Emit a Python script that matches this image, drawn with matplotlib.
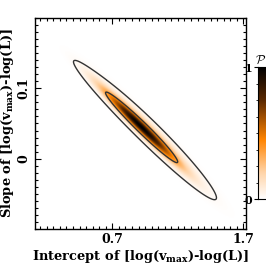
import matplotlib
matplotlib.use("Agg")
import matplotlib.pyplot as plt
import numpy as np
from matplotlib.colors import LinearSegmentedColormap
from matplotlib.ticker import MultipleLocator, FixedLocator

plt.rcParams['font.family'] = 'DejaVu Serif'
plt.rcParams['font.weight'] = 'bold'
plt.rcParams['axes.labelweight'] = 'bold'
plt.rcParams['mathtext.fontset'] = 'dejavuserif'

# posterior summary: intercept, slope
center = [0.90, 0.048]
sigma = [0.18, 0.033]
rho = -0.98
# broader lobe that sets the outer contour
center2 = [1.01, 0.033]
sigma2 = [0.215, 0.040]
rho2 = -0.97
weight2 = 0.3
# ends of the inner contour
inner_tips = [[0.63, 0.098], [1.17, -0.002]]
outer_level = 0.022
xlim = [0.11, 1.72]
ylim = [-0.10, 0.20]
xticks = [0.7, 1.7]
yticks = [0.0, 0.1]

cmap = LinearSegmentedColormap.from_list(
    'wob', [(0, 'white'), (0.2, '#ffd4a8'), (0.45, '#ff8400'), (0.75, '#5a2800'), (1, 'black')])


def gauss(x, y, c, s, r):
    u = (x - c[0]) / s[0]
    v = (y - c[1]) / s[1]
    return np.exp(-(u**2 - 2*r*u*v + v**2) / (2*(1 - r**2)))


def post(x, y):
    return gauss(x, y, center, sigma, rho) + weight2 * gauss(x, y, center2, sigma2, rho2)


xg = np.linspace(xlim[0], xlim[1], 400)
yg = np.linspace(ylim[0], ylim[1], 400)
X, Y = np.meshgrid(xg, yg)
P = post(X, Y)
pmax = P.max()
P = P / pmax
levels = [outer_level, np.mean([post(*p) for p in inner_tips]) / pmax]

fig = plt.figure(figsize=(2.66, 2.66), dpi=100)
ax = fig.add_axes([35/266, 37/266, 211/266, 211/266])
ax.imshow(P, origin='lower', extent=[xlim[0], xlim[1], ylim[0], ylim[1]],
          aspect='auto', cmap=cmap, vmin=0, vmax=1, interpolation='bilinear')
ax.contour(X, Y, P, levels=levels, colors='#333333', linewidths=1.0)
ax.set_xlim(xlim)
ax.set_ylim(ylim)

ax.xaxis.set_major_locator(FixedLocator(xticks))
ax.xaxis.set_minor_locator(MultipleLocator(0.05))
ax.yaxis.set_major_locator(FixedLocator(yticks))
ax.yaxis.set_minor_locator(MultipleLocator(0.01))
ax.set_xticklabels(['0.7', '1.7'], fontweight='bold')
ax.set_yticklabels(['0', '0.1'], rotation=90, va='center', fontweight='bold')
ax.tick_params(which='both', direction='in', top=True, right=True, labelsize=9, pad=3)
ax.tick_params(which='major', length=4, width=0.8)
ax.tick_params(which='minor', length=2, width=0.8)
for s in ax.spines.values():
    s.set_linewidth(1.0)

ax.set_xlabel(r'Intercept of [log(v$_{\mathbf{max}}$)-log(L)]', fontsize=9.4, labelpad=1)
ax.set_ylabel(r'Slope of [log(v$_{\mathbf{max}}$)-log(L)]', fontsize=9.4, labelpad=1)

cax = fig.add_axes([258/266, 67/266, 12/266, 132/266])
cb = np.linspace(0, 1, 256).reshape(-1, 1)
cax.imshow(cb, origin='lower', extent=[0, 1, 0, 1], aspect='auto', cmap=cmap)
cax.set_xticks([])
cax.yaxis.set_major_locator(FixedLocator([0, 1]))
cax.yaxis.set_minor_locator(MultipleLocator(0.125))
cax.set_yticklabels(['0', '1'], fontweight='bold')
cax.tick_params(which='both', direction='out', left=True, right=False, labelsize=8, pad=1)
cax.tick_params(which='major', length=3)
cax.tick_params(which='minor', length=1.5)
cax.text(-0.25, 1.0, r'$\mathcal{P}$', transform=cax.transAxes, fontsize=9,
         ha='left', va='bottom', math_fontfamily='cm')

fig.savefig('out.png', dpi=100)
